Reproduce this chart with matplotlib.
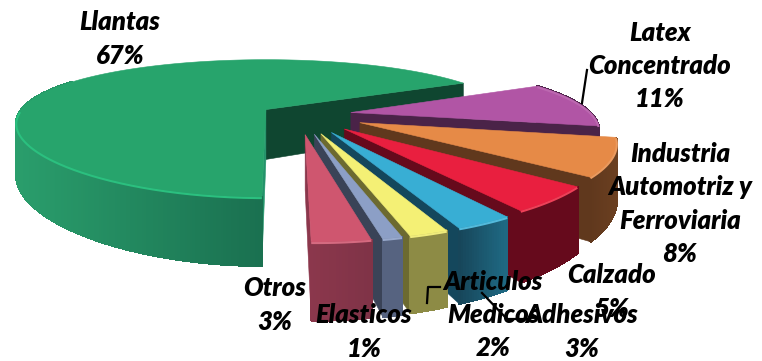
import numpy as np
import matplotlib
matplotlib.use("Agg")
import matplotlib.pyplot as plt
from matplotlib.colors import to_rgb
from matplotlib.patches import Polygon

# Slices, clockwise from the back right
categories = ["Llantas", "Latex\nConcentrado", "Industria\nAutomotriz y\nFerroviaria", "Calzado",
              "Adhesivos", "Articulos\nMedicos", "Elasticos", "Otros"]
shares = [67, 11, 8, 5, 3, 2, 1, 3]

# Slice colours: top, cut face, wall (left and right end), rim highlight
top_colors = ["#27A46C", "#B155A5", "#E68A47", "#E91F3F", "#38AED4", "#F4F075", "#8C9FC6", "#CF566F"]
face_colors = ["#0F4630", "#4A2348", "#60381D", "#660A1C", "#14475C", "#6C6A30", "#3A4357", "#8B374C"]
wall_left = ["#2A9E6C", "#4A2348", "#60381D", "#660A1C", "#17465A", "#8D8B45", "#566380", "#8B374C"]
wall_right = ["#1A7050", "#4A2348", "#6A3F20", "#660A1C", "#1F6A84", "#8D8B45", "#566380", "#7F3347"]
rim_colors = ["#2BC07F", "#BC68B0", "#EB9A5E", "#EE4058", "#52BADC", "#F0EC7C", "#98A9CC", "#D56A80"]

explode = [0.148, 0.22, 0.27, 0.27, 0.28, 0.28, 0.28, 0.28]
radius = [1.0, 0.97, 0.97, 0.97, 0.97, 0.97, 0.97, 0.97]

# Label anchors in figure pixels
label_x = [120, 660, 680, 612, 582, 493, 364, 275]
label_y = [39, 66, 204, 292, 332, 315, 332, 305]

start_angle = 28
pie_center = (0.13, -0.07)
origin_x, origin_y = 265, 110
scale_x, scale_y = 245, 63.8
persp_x, persp_y = 0.2, 0.275
depth = 50


def project(u, v):
    # Perspective view of the pie plane, nearer points come out larger
    return origin_x + scale_x * u / (1 + persp_x * v), origin_y - scale_y * v / (1 + persp_y * v)


def drop(v):
    return depth / (1 + persp_y * v)


def lerp(c1, c2, t):
    a, b = np.array(to_rgb(c1)), np.array(to_rgb(c2))
    return tuple(a + (b - a) * t)


fig = plt.figure(figsize=(7.62, 3.61), dpi=100)
ax = fig.add_axes([0, 0, 1, 1])
ax.set_xlim(0, 762)
ax.set_ylim(361, 0)
ax.axis("off")

# Llantas runs counter clockwise from the start angle, the others clockwise
bounds = []
a = start_angle
bounds.append((a, a + shares[0] * 3.6))
for s in shares[1:]:
    bounds.append((a - s * 3.6, a))
    a -= s * 3.6

for i, (a0, a1) in enumerate(bounds):
    mid = np.radians((a0 + a1) / 2)
    cu = pie_center[0] + explode[i] * np.cos(mid)
    cv = pie_center[1] + explode[i] * np.sin(mid)
    th = np.radians(np.linspace(a0, a1, max(int(a1 - a0) * 2, 12)))
    u = cu + radius[i] * np.cos(th)
    v = cv + radius[i] * np.sin(th)
    px, py = project(u, v)
    pd = drop(v)
    ax_, ay_ = project(cu, cv)
    ad = drop(cv)

    def cut_face(k, color, zorder):
        pts = [(ax_, ay_), (px[k], py[k]), (px[k], py[k] + pd[k]), (ax_, ay_ + ad)]
        ax.add_patch(Polygon(pts, closed=True, fc=color, ec=color, lw=0.4, zorder=zorder))

    z = 2 + i * 3
    if i == 0:
        # Back cut face is the dark one, the front one only shows as a strip
        cut_face(0, face_colors[0], z)
        cut_face(-1, "#23936A", z + 1)
        x_span = (px[th > np.radians(170)].min(), px[-1])
    else:
        cut_face(0, face_colors[i], z)
        x_span = (px.min(), px.max())

    # Outer wall, shaded from left to right; the back of Llantas stays hidden
    for k in range(len(th) - 1):
        if i == 0 and th[k] < np.radians(150):
            continue
        t = np.clip((px[k] - x_span[0]) / max(x_span[1] - x_span[0], 1), 0, 1)
        c = lerp(wall_left[i], wall_right[i], t)
        quad = [(px[k], py[k]), (px[k + 1], py[k + 1]),
                (px[k + 1], py[k + 1] + pd[k + 1]), (px[k], py[k] + pd[k])]
        ax.add_patch(Polygon(quad, closed=True, fc=c, ec=c, lw=1.0, antialiased=False, zorder=z + 1))

    pts = [(ax_, ay_)] + list(zip(px, py))
    ax.add_patch(Polygon(pts, closed=True, fc=top_colors[i], ec=top_colors[i], lw=0.4, zorder=z + 2))

    # Rim highlight along the front of the slice
    front = v < cv - 0.02 if i == 0 else np.ones_like(v, dtype=bool)
    ax.plot(px[front], py[front] + 1, color=rim_colors[i], lw=1.5, zorder=z + 2,
            solid_capstyle="butt")

# Leader lines
ax.plot([587, 582], [70, 103], color="black", lw=1.6, zorder=40)
ax.plot([427, 428, 440], [303, 287, 287], color="black", lw=1.6, zorder=40)
ax.plot([482, 507, 527], [293, 319, 319], color="black", lw=1.6, zorder=40)

for name, s, x, y in zip(categories, shares, label_x, label_y):
    ax.text(x, y, f"{name}\n{s}%", ha="center", va="center", family="Lato", fontsize=18.5,
            fontweight=800, fontstyle="italic", color="black", linespacing=1.47, zorder=50)

fig.savefig("out.png", dpi=100)
